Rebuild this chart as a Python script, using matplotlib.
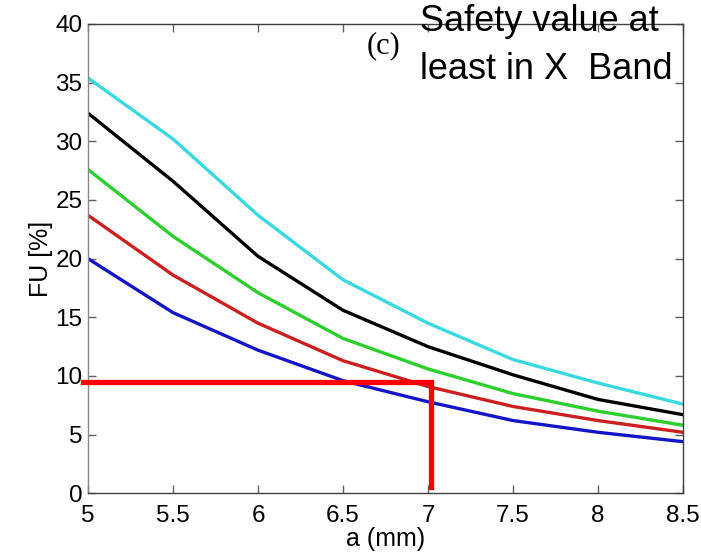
import matplotlib
matplotlib.use('Agg')
import matplotlib.pyplot as plt

# a (mm) sample points
a_mm = [5, 5.5, 6, 6.5, 7, 7.5, 8, 8.5]

# FU [%] curves, top to bottom
fu_cyan = [35.4, 30.2, 23.7, 18.2, 14.5, 11.4, 9.4, 7.6]
fu_black = [32.4, 26.6, 20.2, 15.6, 12.5, 10.1, 8.0, 6.7]
fu_green = [27.6, 21.9, 17.1, 13.2, 10.6, 8.5, 7.0, 5.8]
fu_red = [23.7, 18.6, 14.5, 11.3, 9.1, 7.4, 6.2, 5.2]
fu_blue = [20.0, 15.4, 12.2, 9.6, 7.8, 6.2, 5.2, 4.4]

# safety threshold marker
safe_x = [4.97, 7.02, 7.02]
safe_y = [9.5, 9.5, 0.55]

W, H = 701, 557
fig = plt.figure(figsize=(W / 100, H / 100), dpi=100)
ax = fig.add_axes([88 / W, 1 - 493.3 / H, 595 / W, 469.3 / H])

curves = [(fu_cyan, '#3ad9e0'), (fu_black, '#000000'), (fu_green, '#2ccf2c'),
          (fu_red, '#cc2020'), (fu_blue, '#1414c8')]
for vals, col in curves:
    ax.plot(a_mm, vals, color=col, linewidth=2.4)

ax.plot(safe_x, safe_y, color='#ff0000', linewidth=3.8, clip_on=False,
        solid_joinstyle='miter', zorder=5)

ax.set_xlim(5, 8.5)
ax.set_ylim(0, 40)
ax.set_xticks([5, 5.5, 6, 6.5, 7, 7.5, 8, 8.5])
ax.set_xticklabels(['5', '5.5', '6', '6.5', '7', '7.5', '8', '8.5'])
ax.set_yticks(range(0, 41, 5))

for s in ax.spines.values():
    s.set_color('#404040')
    s.set_linewidth(1.0)
ax.spines['left'].set_color('#888888')

ax.tick_params(direction='in', top=True, right=True, length=6, width=1,
               color='#606060', labelsize=17.5)
ax.tick_params(axis='x', pad=8.5)
ax.tick_params(axis='y', pad=4)
for lab in ax.get_xticklabels() + ax.get_yticklabels():
    lab.set_family('Liberation Sans')

ax.set_xlabel('a (mm)', fontsize=18, family='Liberation Sans', labelpad=0)
ax.set_ylabel('FU [%]', fontsize=18, family='Liberation Sans', labelpad=2)

fig.text(383 / W, 1 - 46 / H, '(c)', family='Liberation Serif', fontsize=22,
         ha='center', va='center')
fig.text(420 / W, 1 - 31 / H, 'Safety value at', family='Liberation Sans',
         fontsize=26, ha='left', va='baseline')
fig.text(420 / W, 1 - 79 / H, 'least in X  Band', family='Liberation Sans',
         fontsize=26, ha='left', va='baseline')

fig.savefig('out.png', dpi=100)
